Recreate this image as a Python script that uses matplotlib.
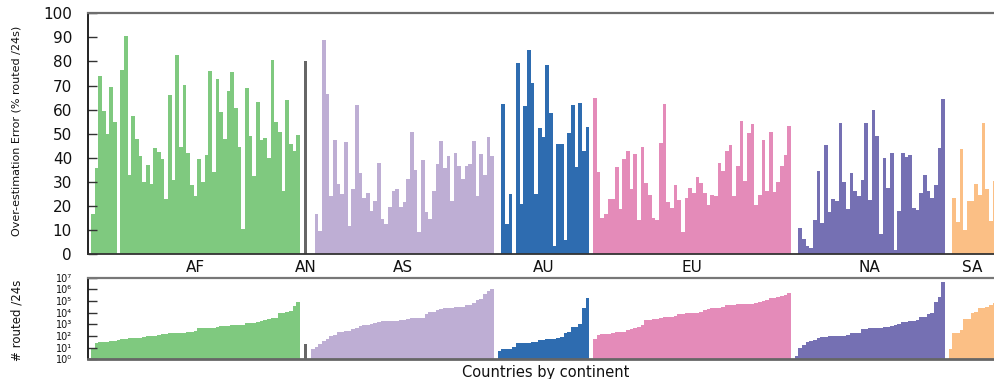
import numpy as np
import matplotlib
matplotlib.use("Agg")
import matplotlib.pyplot as plt
from matplotlib.ticker import FixedLocator, NullLocator

plt.rcParams['font.family'] = ['DejaVu Sans']

# ---------------- data ----------------
continents = ['AF', 'AN', 'AS', 'AU', 'EU', 'NA', 'SA']
continent_colors = ['#7fc97f', '#666666', '#beaed4', '#2e6cb0', '#e48bb9', '#7570b3', '#fbbf85']

# over-estimation error (% routed /24s), countries sorted by # routed within each continent
err_AF = [16.6, 35.7, 74.1, 59.3, 49.8, 69.3, 54.8, 0, 76.3, 90.5, 32.9, 57.3, 47.7, 40.7, 29.9,
          36.9, 29.2, 44.0, 42.3, 39.4, 22.8, 66.0, 30.7, 82.6, 44.4, 70.1, 41.9, 28.6, 24.1, 39.4,
          29.9, 41.1, 75.9, 34.0, 72.6, 58.9, 47.7, 67.6, 75.5, 60.6, 44.4, 10.4, 68.9, 49.0, 32.4,
          63.1, 47.3, 48.1, 39.8, 80.5, 54.8, 50.6, 26.1, 63.9, 45.6, 42.7, 49.4]
err_AN = [80.1]
err_AS = [0, 16.6, 9.7, 88.8, 66.4, 24.1, 47.3, 29.0, 24.9, 46.5, 11.6, 27.0, 61.8, 33.6, 23.2,
          25.3, 17.8, 22.0, 37.8, 14.5, 12.4, 19.5, 26.1, 27.0, 19.5, 21.6, 31.1, 50.6, 34.9, 9.1,
          39.0, 17.4, 14.5, 26.1, 37.3, 46.9, 35.7, 40.7, 22.0, 41.9, 36.5, 31.1, 36.5, 37.3, 46.9,
          24.1, 41.5, 32.8, 48.5, 40.7]
err_AU = [0, 62.2, 12.4, 24.9, 0, 79.3, 20.7, 61.4, 84.6, 71.0, 24.9, 52.3, 48.5, 78.4, 58.5,
          3.5, 45.6, 45.6, 5.8, 50.2, 61.8, 36.1, 62.7, 42.7, 52.7]
err_EU = [64.7, 34.0, 14.9, 16.6, 22.8, 22.8, 36.1, 18.7, 39.4, 42.7, 27.0, 41.5, 14.1, 44.4, 29.5,
          24.5, 14.9, 14.1, 46.1, 62.2, 21.6, 19.1, 28.6, 22.4, 9.1, 23.2, 27.4, 25.3, 32.0, 29.5,
          25.3, 20.3, 24.5, 24.1, 37.8, 34.4, 42.7, 45.2, 24.1, 36.5, 55.2, 30.3, 50.2, 53.9, 20.3,
          24.5, 47.3, 26.1, 50.6, 25.7, 29.9, 36.5, 41.1, 53.1]
err_NA = [0, 10.8, 6.2, 3.5, 2.5, 14.1, 34.4, 12.9, 45.2, 17.4, 22.8, 22.0, 54.4, 29.9, 18.7,
          33.6, 26.1, 24.1, 30.7, 54.4, 22.4, 59.8, 49.0, 8.3, 39.8, 27.4, 41.9, 1.5, 17.8, 41.9,
          40.2, 41.1, 19.1, 18.3, 25.3, 32.8, 26.1, 23.2, 28.6, 44.0, 64.5]
err_SA = [0, 23.2, 13.3, 43.6, 10.0, 22.0, 22.0, 29.0, 24.5, 54.4, 27.0, 13.7, 30.3]

# number of routed /24s per country
routed_AF = [7, 26, 32, 32, 32, 40, 40, 48, 59, 59, 71, 71, 71, 71, 87, 105, 105, 105, 129, 155,
             155, 190, 190, 190, 190, 190, 230, 230, 280, 510, 510, 510, 510, 510, 620, 760, 760,
             760, 910, 910, 910, 910, 1350, 1350, 1350, 1660, 2000, 2450, 3000, 3600, 3600, 9800,
             9800, 11700, 14500, 39000, 85000]
routed_AN = [22]
routed_AS = [7, 12, 22, 40, 59, 105, 129, 230, 230, 280, 280, 417, 510, 760, 910, 910, 1120, 1350,
             1660, 2000, 2000, 2000, 2000, 2000, 2450, 2450, 3000, 3600, 3600, 3600, 3600, 7900,
             11700, 11700, 17800, 21400, 26300, 26300, 26300, 31600, 31600, 31600, 46800, 46800,
             69000, 126000, 155000, 407000, 741000, 1096000]
routed_AU = [5.5, 8, 8, 8, 12, 26, 26, 26, 26, 32, 32, 48, 48, 59, 59, 59, 71, 87, 190, 230, 620,
             620, 1120, 26300, 186000]
routed_EU = [59, 129, 155, 155, 155, 190, 230, 230, 230, 347, 417, 510, 620, 910, 2450, 2450, 3000,
             3000, 3600, 4470, 4470, 4470, 5370, 7900, 7900, 9800, 9800, 9800, 9800, 11700, 17800,
             21400, 26300, 26300, 26300, 31600, 46800, 46800, 46800, 57500, 57500, 57500, 57500,
             57500, 69000, 85000, 102000, 126000, 186000, 186000, 229000, 275000, 339000, 501000]
routed_NA = [2, 10, 18, 32, 40, 48, 71, 87, 87, 105, 105, 105, 105, 105, 129, 190, 190, 190, 417,
             417, 510, 510, 510, 510, 620, 620, 760, 910, 1120, 1660, 1660, 2000, 2000, 2450, 4470,
             4470, 7900, 9800, 85000, 229000, 4365000]
routed_SA = [7, 190, 190, 347, 3000, 3000, 9800, 11700, 26300, 26300, 31600, 46800, 69000]

err_lists = [err_AF, err_AN, err_AS, err_AU, err_EU, err_NA, err_SA]
routed_lists = [routed_AF, routed_AN, routed_AS, routed_AU, routed_EU, routed_NA, routed_SA]

yticks_top = list(range(0, 101, 10))
decades = list(range(0, 8))
decade_labels = ['10⁰', '10¹', '10²', '10³', '10⁴', '10⁵', '10⁶', '10⁷']

# ---------------- figure ----------------
W, H = 995, 379
fig = plt.figure(figsize=(W / 100, H / 100), dpi=100)


def rect(l, t, r, b):
    return [l / W, 1 - b / H, (r - l) / W, (b - t) / H]


ax1 = fig.add_axes(rect(88, 13.3, 995, 254))
ax2 = fig.add_axes(rect(88, 277.7, 995, 359.3))

start = 0
centers = []
for name, col, errs, rts in zip(continents, continent_colors, err_lists, routed_lists):
    xs = np.arange(start, start + len(errs))
    ax1.bar(xs, errs, width=1.0, color=col, linewidth=0, antialiased=False, zorder=1)
    ax2.bar(xs, rts, width=1.0, color=col, linewidth=0, antialiased=False, zorder=1)
    centers.append((xs[0] + xs[-1]) / 2)
    start += len(errs) + 1

xl = (-1.32, 246.16)
for ax in (ax1, ax2):
    ax.set_xlim(*xl)
    ax.spines['right'].set_visible(False)
    ax.spines['left'].set_color('#111111')
    ax.spines['left'].set_linewidth(1.3)
    ax.tick_params(axis='y', direction='in', length=6.5, width=1.0, color='#333333',
                   labelsize=11, pad=11.5, labelcolor='#111111')

# top panel
ax1.set_ylim(0, 100)
ax1.set_yticks(yticks_top)
ax1.set_xticks(centers)
ax1.set_xticklabels(continents, fontsize=11, color='#111111')
ax1.tick_params(axis='x', length=0, pad=4)
ax1.spines['top'].set_color('#6e6e6e')
ax1.spines['top'].set_linewidth(1.6)
ax1.spines['bottom'].set_color('#333333')
ax1.spines['bottom'].set_linewidth(1.3)

# bottom panel
ax2.set_yscale('log')
ax2.set_ylim(1, 1e7)
ax2.yaxis.set_major_locator(FixedLocator([10.0 ** k for k in decades]))
ax2.yaxis.set_minor_locator(NullLocator())
ax2.set_yticklabels(decade_labels)
ax2.tick_params(axis='y', labelsize=7, pad=11.5)
ax2.set_xticks([])
ax2.spines['top'].set_color('#777777')
ax2.spines['top'].set_linewidth(1.6)
ax2.spines['bottom'].set_color('#666666')
ax2.spines['bottom'].set_linewidth(2.0)

fig.text(17 / W, 1 - 131 / H, 'Over-estimation Error (% routed /24s)', rotation=90,
         ha='center', va='center', fontsize=8, color='#111111')
fig.text(17 / W, 1 - 320 / H, '# routed /24s', rotation=90,
         ha='center', va='center', fontsize=8.5, color='#111111')
fig.text(546 / W, 1 - 372 / H, 'Countries by continent', ha='center', va='center',
         fontsize=10.5, color='#111111')

fig.savefig('out.png', dpi=100)
